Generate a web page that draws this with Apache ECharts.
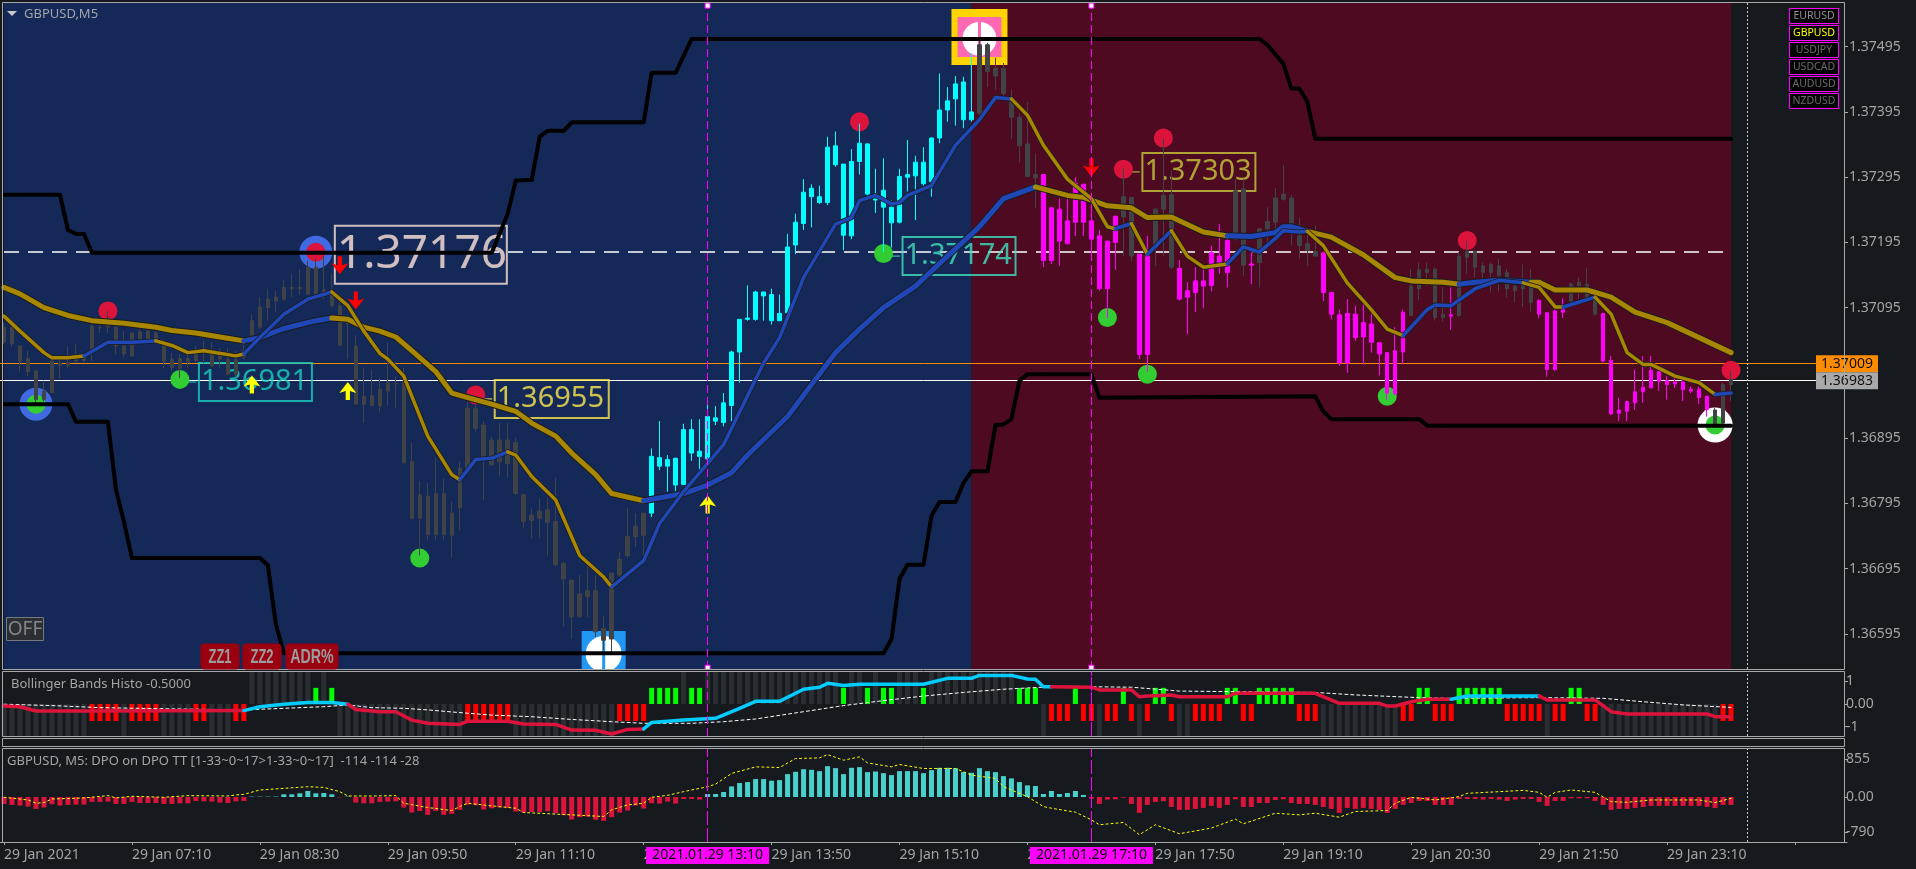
<!DOCTYPE html>
<html>
<head>
<meta charset="utf-8">
<title>GBPUSD,M5</title>
<script src="https://cdn.jsdelivr.net/npm/echarts@6/dist/echarts.min.js"></script>
<style>
  html, body { margin: 0; padding: 0; background: #161a1e; }
  #main { width: 1916px; height: 869px; }
</style>
</head>
<body>
<div id="main"></div>
<script>
// prices are in 1/100000 (137176 = 1.37176)
var tickLabels = ['29 Jan 2021', '29 Jan 07:10', '29 Jan 08:30', '29 Jan 09:50', '29 Jan 11:10', '29 Jan 12:30', '29 Jan 13:50',
  '29 Jan 15:10', '29 Jan 16:30', '29 Jan 17:50', '29 Jan 19:10', '29 Jan 20:30', '29 Jan 21:50', '29 Jan 23:10'];
var priceTicks = [137495, 137395, 137295, 137195, 137095, 136895, 136795, 136695, 136595];
var bbTicks = [1, 0, -1];
var dpoTicks = [855, 0, -790];
var symbolNames = ['EURUSD', 'GBPUSD', 'USDJPY', 'USDCAD', 'AUDUSD', 'NZDUSD'];
var dayHigh = 137181, askPrice = 137009, bidPrice = 136983;

// one row per bar: body top, body bottom, wick high, wick low
var candleRows = [
  [137065,137042,137072,137039],[137065,137040,137069,137035],[137036,137013,137037,136997],[137017,136997,137029,136990],
  [136998,136954,137000,136944],[136967,136954,136983,136951],[137013,136965,137015,136964],[137010,137006,137019,136987],
  [137011,137006,137036,137002],[137017,137013,137039,137010],[137017,137014,137023,137010],[137067,137028,137072,137013],
  [137065,137064,137072,137056],[137079,137065,137090,137056],[137065,137036,137069,137023],[137036,137024,137059,137019],
  [137056,137021,137057,137019],[137058,137045,137062,137042],[137059,137046,137062,137042],[137056,137044,137059,137039],
  [137036,137013,137046,137002],[137016,137003,137026,136997],[137017,137002,137023,136987],[137017,137012,137029,137003],
  [137023,137014,137036,137010],[137033,137026,137044,137010],[137024,137006,137042,137003],[137026,137016,137033,137003],
  [137016,136993,137033,136991],[137015,136993,137029,136990],[137029,137019,137039,137016],[137075,137052,137085,137049],
  [137096,137065,137111,137062],[137108,137095,137124,137075],[137111,137105,137121,137088],[137126,137108,137138,137105],
  [137126,137124,137147,137111],[137126,137124,137154,137115],[137157,137116,137167,137115],[137157,137116,137170,137115],
  [137122,137118,137174,137108],[137115,137098,137147,137095],[137098,137037,137115,137036],[137072,137070,137072,137016],
  [137036,136947,137052,136947],[136959,136947,137003,136918],[136960,136945,137000,136944],[136970,136944,136987,136934],
  [136980,136967,137042,136944],[136979,136978,136990,136941],[136980,136857,137003,136856],[136859,136772,136888,136770],
  [136808,136772,136829,136715],[136806,136747,136826,136738],[136810,136747,136865,136738],[136810,136747,136833,136738],
  [136780,136746,136797,136711],[136849,136788,136859,136754],[136941,136849,136951,136846],[136940,136910,136947,136905],
  [136915,136865,136921,136800],[136892,136854,136898,136852],[136892,136859,136918,136836],[136892,136856,136918,136834],
  [136888,136810,136895,136808],[136808,136767,136810,136757],[136777,136769,136787,136741],[136783,136772,136803,136742],
  [136785,136766,136803,136715],[136767,136701,136834,136698],[136703,136679,136705,136606],[136677,136621,136679,136587],
  [136656,136621,136685,136620],[136661,136652,136701,136620],[136661,136598,136685,136590],[136603,136585,136623,136570],
  [136688,136587,136688,136567],[136709,136685,136721,136682],[136744,136715,136788,136711],[136760,136744,136780,136728],
  [136780,136746,136780,136715],[136867,136780,136879,136774],[136865,136852,136921,136846],[136862,136852,136869,136813],
  [136864,136823,136865,136813],[136908,136824,136917,136823],[136908,136872,136924,136860],[136875,136867,136924,136846],
  [136928,136863,136947,136862],[136926,136921,136944,136915],[136949,136919,136964,136913],[137027,136945,137029,136921],
  [137077,137027,137077,136980],[137079,137077,137129,137075],[137119,137077,137121,137075],[137119,137113,137119,137075],
  [137115,137075,137124,137069],[137086,137075,137115,137074],[137188,137087,137208,137083],[137226,137191,137239,137177],
  [137272,137224,137292,137214],[137278,137265,137284,137218],[137265,137256,137282,137254],[137341,137256,137357,137252],
  [137343,137314,137365,137311],[137315,137206,137315,137183],[137319,137205,137338,137200],[137347,137319,137377,137299],
  [137346,137269,137347,137267],[137269,137260,137308,137240],[137275,137249,137324,137180],[137249,137225,137259,137187],
  [137296,137226,137308,137224],[137299,137295,137352,137273],[137318,137297,137328,137229],[137318,137285,137341,137282],
  [137355,137288,137356,137265],[137398,137355,137454,137347],[137412,137398,137433,137380],[137438,137415,137450,137374],
  [137441,137383,137449,137370],[137395,137383,137485,137380],[137498,137393,137505,137390],[137498,137457,137501,137433],
  [137462,137450,137478,137429],[137462,137423,137470,137419],[137413,137387,137429,137354],[137387,137343,137393,137318],
  [137346,137296,137410,137295],[137299,137294,137331,137247],[137299,137167,137299,137157],[137248,137167,137249,137162],
  [137246,137197,137262,137159],[137228,137193,137262,137192],[137286,137226,137295,137205],[137284,137226,137285,137205],
  [137228,137200,137259,137167],[137205,137124,137214,137121],[137197,137124,137197,137079],[137235,137195,137236,137153],
  [137265,137234,137308,137174],[137264,137174,137264,137166],[137177,137023,137177,137016],[137175,137023,137205,136997],
  [137246,137187,137246,137159],[137267,137246,137354,137174],[137268,137157,137305,137154],[137155,137108,137168,137106],
  [137121,137111,137134,137054],[137136,137118,137157,137088],[137136,137128,137157,137094],[137179,137129,137190,137120],
  [137174,137162,137223,137147],[137198,137149,137200,137126],[137274,137200,137292,137198],[137277,137160,137292,137144],
  [137162,137160,137180,137131],[137216,137164,137216,137126],[137227,137216,137249,137190],[137263,137226,137278,137213],
  [137269,137261,137313,137259],[137263,137223,137267,137190],[137205,137190,137233,137170],[137193,137183,137213,137159],
  [137181,137174,137221,137174],[137179,137118,137180,137105],[137118,137085,137118,137077],[137084,137010,137092,137006],
  [137086,137010,137108,136995],[137085,137049,137098,137044],[137072,137050,137101,137008],[137070,137042,137095,137026],
  [137041,137024,137042,136991],[137026,136964,137026,136954],[137029,136963,137065,136961],[137088,137027,137092,137008],
  [137128,137083,137154,137082],[137153,137124,137164,137106],[137154,137149,137164,137128],[137154,137080,137157,137075],
  [137085,137080,137126,137074],[137084,137082,137126,137061],[137174,137083,137180,137080],[137181,137172,137197,137147],
  [137181,137157,137183,137141],[137159,137149,137164,137128],[137161,137149,137164,137118],[137159,137144,137170,137120],
  [137149,137124,137154,137111],[137128,137121,137141,137103],[137129,137124,137161,137096],[137126,137103,137154,137088],
  [137106,137085,137108,137079],[137087,137000,137088,136989],[137090,137000,137092,136998],[137092,137088,137109,137079],
  [137131,137105,137134,137103],[137134,137129,137141,137108],[137131,137105,137155,137103],[137108,137085,137111,137083],
  [137086,137013,137086,137011],[137014,136932,137021,136931],[136938,136933,136957,136921],[136951,136936,136952,136921],
  [136966,136949,137000,136938],[136973,136966,137021,136949],[136999,136972,137021,136972],[136997,136982,136998,136967],
  [136983,136977,136990,136954],[136981,136978,136987,136972],[136981,136969,136985,136952],[136970,136967,136974,136964],
  [136970,136957,136974,136947],[136959,136939,136960,136928],[136938,136915,136941,136911],[136977,136918,136980,136915],
  [136985,136977,136998,136952]
];
// from bar, to bar, kind
var candleRuns = [[0,80,'n'],[81,121,'u'],[122,129,'n'],[130,139,'d'],[140,141,'n'],[142,143,'d'],[144,146,'n'],[147,153,'d'],
  [154,155,'n'],[156,156,'d'],[157,164,'n'],[165,175,'d'],[176,180,'n'],[181,181,'d'],[182,191,'n'],[192,195,'d'],[196,199,'n'],
  [200,213,'d'],[214,216,'n']];

var upperIdx = [0,7,8,9,10,11,61,63,64,66,67,68,70,71,80,81,84,86,157,158,160,161,162,163,164,216];
var upperPx = [137268,137268,137214,137208,137208,137179,137179,137239,137290,137291,137357,137366,137366,137379,137379,137455,137455,
  137507,137507,137498,137469,137431,137431,137411,137354,137354];
var lowerIdx = [0,8,9,13,14,15,16,32,33,34,35,110,111,112,113,115,116,117,119,120,121,123,124,125,126,127,128,136,137,164,165,166,177,178,216];
var lowerPx = [136947,136947,136920,136920,136816,136767,136711,136711,136700,136610,136565,136565,136587,136679,136701,136701,136776,
  136797,136797,136826,136844,136844,136915,136916,136924,136983,136993,136993,136957,136959,136936,136924,136924,136914,136914];

var slowIdx = [0,2,5,8,11,15,19,21,24,27,30,32,35,39,41,43,45,47,49,51,54,56,58,61,64,66,69,71,74,76,80,85,88,91,93,98,104,107,110,114,118,
  122,125,129,133,135,138,141,143,146,150,153,156,159,160,161,163,166,170,174,176,180,182,184,187,191,192,194,198,201,204,208,212,216];
var slowPx = [137126,137116,137095,137083,137075,137071,137065,137060,137056,137050,137044,137049,137063,137075,137079,137077,137065,137059,
  137050,137029,136997,136964,136957,136947,136936,136918,136898,136872,136839,136810,136799,136810,136823,136842,136869,136928,137026,137062,
  137095,137128,137174,137219,137262,137280,137267,137264,137251,137248,137233,137234,137211,137205,137204,137210,137219,137219,137212,137203,
  137176,137141,137136,137134,137131,137134,137137,137134,137134,137122,137122,137111,137088,137072,137049,137026];
var slowRuns = [[0,30,'f'],[30,41,'r'],[41,80,'f'],[80,129,'r'],[129,153,'f'],[153,163,'r'],[163,182,'f'],[182,191,'r'],[191,216,'f']];

var fastIdx = [0,2,5,6,8,10,13,16,19,21,23,25,29,30,32,35,38,41,43,45,47,48,50,53,56,57,59,61,63,64,66,69,72,75,76,77,80,82,85,90,95,97,100,104,
  106,107,109,111,112,113,116,119,122,124,126,128,130,133,136,138,139,141,143,146,148,150,153,155,157,159,160,162,163,165,168,171,173,175,178,
  179,181,184,187,190,192,194,195,199,201,203,205,206,209,212,214,216];
var fastPx = [137082,137059,137026,137018,137018,137021,137042,137042,137044,137037,137026,137029,137021,137024,137049,137085,137108,137119,
  137098,137059,137025,137016,136990,136898,136839,136831,136862,136864,136874,136869,136836,136800,136715,136682,136667,136677,136707,136764,
  136813,136885,137010,137049,137141,137223,137233,137259,137267,137254,137256,137267,137282,137344,137383,137417,137415,137390,137344,137292,
  137262,137219,137216,137224,137177,137213,137174,137157,137162,137188,137180,137201,137213,137211,137212,137190,137133,137092,137062,137052,
  137092,137099,137098,137124,137137,137133,137126,137096,137096,137111,137085,137026,137008,137008,136990,136980,136962,136964];
var fastRuns = [[0,10,'f'],[10,19,'r'],[19,30,'f'],[30,41,'r'],[41,57,'f'],[57,63,'r'],[63,76,'f'],[76,126,'r'],[126,139,'f'],[139,141,'r'],
  [141,143,'f'],[143,146,'r'],[146,153,'f'],[153,163,'r'],[163,175,'f'],[175,190,'r'],[190,195,'f'],[195,199,'r'],[199,214,'f'],[214,216,'r']];

var redDots = [[13,137090],[39,137180],[59,136961],[107,137380],[140,137307],[145,137355],[183,137198],[216,136999]];
var greenDots = [[4,136947],[22,136985],[52,136711],[110,137178],[138,137080],[143,136993],[173,136959],[214,136915]];
var blueRings = [[39,137180],[4,136947]];
var whiteRings = [[214,136915]];
var downArrows = [[42,137160],[44,137106],[136,137310]];
var upArrows = [[31,136977],[43,136967],[88,136793]];
var sellIcon = [[122,137510]];
var sellDisc = [[122,137507]];
var buyIcon = [[75,136570]];
var buyDisc = [[75,136564]];
var markerBars = [88, 136];
var markerTimes = ['2021.01.29 13:10', '2021.01.29 17:10'];
var futureBar = 218;
var dayHighEnd = 215;

var noteBars = [39, 22, 59, 110, 140];
var notePrices = [137176, 136981, 136955, 137174, 137303];

// Bollinger Bands Histo pane
var bbRuns = [[0,10,'gd'],[11,14,'s'],[15,15,'gd'],[16,19,'s'],[20,23,'gd'],[24,25,'s'],[26,28,'gd'],[29,30,'s'],[31,38,'gu'],[39,39,'b'],[40,40,'gu'],
  [41,41,'b'],[42,57,'gd'],[58,63,'s'],[64,76,'gd'],[77,80,'s'],[81,84,'b'],[85,85,'gu'],[86,87,'b'],[88,104,'gu'],[105,105,'b'],[106,107,'gu'],
  [108,108,'b'],[109,109,'gu'],[110,111,'b'],[112,114,'gu'],[115,115,'b'],[116,126,'gu'],[127,129,'b'],[130,130,'gd'],[131,133,'s'],[134,134,'b'],
  [135,136,'s'],[137,137,'gd'],[138,139,'s'],[140,140,'b'],[141,141,'s'],[142,142,'gd'],[143,143,'s'],[144,145,'b'],[146,146,'s'],[147,148,'gd'],
  [149,152,'s'],[153,154,'b'],[155,156,'s'],[157,161,'b'],[162,164,'s'],[165,174,'gd'],[175,176,'s'],[177,178,'b'],[179,181,'s'],[182,187,'b'],
  [188,192,'s'],[193,193,'gd'],[194,195,'s'],[196,197,'b'],[198,199,'s'],[200,214,'gd'],[215,216,'s']];
var bbLevels = { gu: 1.41, gd: -1.41, b: 0.71, s: -0.75 };
var bbIdx = [0,2,4,11,30,32,35,38,41,43,44,47,49,51,53,57,58,63,65,69,71,74,76,78,80,81,85,89,92,94,97,100,102,103,105,107,115,118,121,122,126,128,
  129,130,131,136,137,141,142,143,146,147,153,154,164,167,172,173,174,176,178,181,183,192,193,199,201,203,213,214,216];
var bbVal = [-0.09,-0.12,-0.31,-0.31,-0.29,-0.12,-0.01,0.07,0.07,-0.01,-0.24,-0.34,-0.34,-0.71,-0.85,-0.9,-0.76,-0.76,-0.88,-0.9,-1.15,-1.16,-1.32,
  -1.12,-1.1,-0.81,-0.71,-0.63,-0.19,0.12,0.12,0.65,0.74,0.91,0.82,0.87,0.87,1.13,1.13,1.26,1.26,1.1,1.09,0.76,0.76,0.74,0.62,0.62,0.32,0.35,0.4,
  0.32,0.32,0.47,0.47,0.03,0.03,-0.09,-0.09,0.1,0.21,0.21,0.35,0.35,0.18,0.18,-0.34,-0.44,-0.44,-0.56,-0.56];
var bbRunsLine = [[0,30,'s'],[30,43,'b'],[43,80,'s'],[80,131,'b'],[131,181,'s'],[181,192,'b'],[192,216,'s']];
var bbDotIdx = [0,6,12,20,30,35,40,43,46,50,53,56,61,66,71,76,80,86,90,94,100,105,110,115,120,125,131,136,141,147,155,164,169,177,181,192,200,205,210,216];
var bbDotVal = [-0.01,-0.07,-0.16,-0.21,-0.26,-0.19,-0.12,-0.04,-0.16,-0.19,-0.26,-0.35,-0.49,-0.56,-0.68,-0.78,-0.85,-0.85,-0.78,-0.66,-0.34,-0.07,
  0.15,0.35,0.51,0.65,0.76,0.76,0.74,0.57,0.54,0.51,0.4,0.28,0.25,0.28,0.25,0.1,-0.04,-0.15];

// DPO on DPO pane
var dpoHist = [-156,-178,-193,-215,-267,-237,-163,-193,-178,-171,-171,-111,-111,-104,-156,-156,-111,-134,-134,-134,-156,-156,-141,-141,-89,-96,-104,-126,
  -134,-96,-89,8,8,8,10,59,59,82,134,82,89,59,-10,8,-126,-141,-141,-111,-104,-96,-237,-349,-312,-401,-312,-401,-378,-289,-171,-186,-282,-252,-237,-245,
  -326,-349,-334,-341,-319,-364,-408,-505,-453,-438,-512,-534,-453,-349,-304,-193,-260,-141,-148,-104,-148,-45,-45,-59,67,67,111,237,312,334,401,401,
  364,378,512,564,623,608,579,690,646,512,653,668,557,571,534,490,579,579,579,534,601,653,653,646,557,542,646,579,557,467,416,334,260,245,67,134,67,89,
  134,45,-37,-156,-59,-52,-15,-156,-356,-178,-111,-96,-223,-289,-289,-267,-245,-200,-245,-178,-52,-223,-223,-134,-134,-67,-52,-134,-156,-156,-178,-223,
  -267,-356,-245,-267,-245,-267,-289,-356,-267,-178,-134,-89,-89,-178,-178,-178,-45,-45,-45,-59,-45,-59,-89,-59,-45,-45,-111,-200,-89,-89,-30,-30,-30,
  -89,-178,-289,-267,-267,-245,-223,-200,-200,-200,-200,-200,-200,-200,-223,-245,-178,-178];
var dpoIdx = [0,3,4,5,6,10,13,14,16,20,23,28,29,30,32,35,38,40,42,43,46,49,50,53,56,57,58,61,64,65,71,75,76,78,80,81,83,85,88,89,91,94,97,99,102,103,105,107,
  108,111,112,115,119,121,124,125,128,130,131,134,136,137,140,142,144,147,151,154,155,159,162,164,167,169,173,174,176,179,182,183,187,190,192,193,194,196,
  199,201,203,206,212,214,216];
var dpoVal = [-7,-67,-141,-126,-45,-22,30,-22,15,-7,30,22,45,59,156,193,230,215,119,22,22,30,-141,-237,-304,-215,-141,-200,-252,-349,-401,-438,-289,-178,
  -141,-7,37,119,230,289,527,675,660,861,876,950,824,898,764,675,727,638,638,490,416,230,7,-215,-252,-341,-512,-623,-571,-846,-623,-824,-697,-497,-601,-364,
  -401,-364,-453,-326,-304,-141,-7,-67,7,82,119,148,104,-7,104,156,104,-104,-119,-67,-67,-126,-30];

var colors = {
  bg: '#161a1e', text: '#a3a5a7', frame: '#a6a8aa', gold: '#a88600', blue: '#1f47b8', grey: '#404346', cyan: '#00ffff', magenta: '#ff00ff',
  crimson: '#dc143c', lime: '#32cd32', bbGrey: '#2a2e33', bbBuy: '#00ff00', bbSell: '#ff0000', bbUp: '#00ccff', teal: '#48d1cc'
};
var fontName = '"Noto Sans"';
var noteColors = ['#ffe4dc', '#18d0c0', '#ffe94d', '#40e0c0', '#c8c83c'];
var noteFonts = [46, 29, 29, 29, 29];
var noteSizes = [[172, 58], [113, 38], [114, 38], [113, 38], [113, 38]];

var barCount = 231;
var categories = [];
for (var i = 0; i < barCount; i++) {
  categories.push(i % 16 === 0 && tickLabels[i / 16] ? tickLabels[i / 16] : 'b' + i);
}

// slice a sparse [bar, value] line into the part between two bars
function pick(idx, val, from, to) {
  var pts = [];
  for (var k = 0; k < idx.length; k++) {
    if (idx[k] >= from && idx[k] <= to) pts.push([idx[k], val[k]]);
  }
  return pts;
}
function lineSeries(data, color, width, axis, z, dash) {
  return {
    type: 'line', xAxisIndex: axis, yAxisIndex: axis, data: data, symbol: 'none', smooth: false, silent: true, z: z,
    lineStyle: { color: color, width: width, type: dash || 'solid', cap: 'round', join: 'round' }
  };
}
function dotSeries(data, symbol, size, color, z, clip, border) {
  return {
    type: 'scatter', xAxisIndex: 0, yAxisIndex: 0, data: data, symbol: symbol, symbolSize: size, silent: true, z: z, clip: clip !== false,
    itemStyle: { color: color, opacity: 1, borderColor: border || color, borderWidth: border ? 1 : 0 }
  };
}
// vertical/horizontal guide lines hang on an empty series
function guideSeries(axis, z, lines, area) {
  var s = {
    type: 'line', xAxisIndex: axis, yAxisIndex: axis, data: [], symbol: 'none', silent: true, z: z,
    markLine: { silent: true, symbol: 'none', z: z, animation: false, data: lines }
  };
  if (area) s.markArea = { silent: true, z: 0, animation: false, data: area };
  return s;
}
function vLine(bar, color, dash, label) {
  var d = { xAxis: bar, lineStyle: { color: color, width: 1, type: dash, opacity: 1 }, label: { show: false } };
  if (label) d.label = { show: true, position: 'start', distance: 5, formatter: label, color: '#000', backgroundColor: colors.magenta,
    fontFamily: fontName, fontSize: 14, padding: [1, 6], lineHeight: 15 };
  return d;
}

var candleData = [];
candleRuns.forEach(function (run) {
  var c = run[2] === 'u' ? colors.cyan : run[2] === 'd' ? colors.magenta : colors.grey;
  for (var b = run[0]; b <= run[1]; b++) {
    var r = candleRows[b];
    candleData.push({
      value: [r[1], r[0], r[3], r[2]],
      itemStyle: { color: c, color0: c, borderColor: c, borderColor0: c, borderWidth: 1 }
    });
  }
});

var bbBars = [];
bbRuns.forEach(function (run) {
  var c = run[2] === 'b' ? colors.bbBuy : run[2] === 's' ? colors.bbSell : colors.bbGrey;
  for (var b = run[0]; b <= run[1]; b++) {
    bbBars.push({ value: bbLevels[run[2]], itemStyle: { color: c } });
  }
});
var dpoBars = dpoHist.map(function (v) {
  return { value: v, itemStyle: { color: v < 0 ? colors.crimson : colors.teal } };
});

var series = [];

var highStyle = { color: '#fff', width: 1.5, type: [15, 9], opacity: 1 };
// background zones plus the price lines that sit under everything
series.push(guideSeries(0, 1, [
  [{ xAxis: 0, yAxis: dayHigh, lineStyle: highStyle, label: { show: false } }, { xAxis: dayHighEnd, yAxis: dayHigh, lineStyle: highStyle }],
  { yAxis: askPrice, lineStyle: { color: '#ff8c00', width: 1, type: 'solid', opacity: 1 },
    label: { show: true, position: 'end', distance: 0, formatter: (askPrice / 1e5).toFixed(5), width: 62, height: 17, lineHeight: 17, align: 'center',
      color: '#111', backgroundColor: '#ff8c00', fontFamily: fontName, fontSize: 14 } },
  { yAxis: bidPrice, lineStyle: { color: '#fff', width: 1, type: 'solid', opacity: 1 },
    label: { show: true, position: 'end', distance: 0, formatter: (bidPrice / 1e5).toFixed(5), width: 62, height: 17, lineHeight: 17, align: 'center',
      color: '#111', backgroundColor: '#a9a9a9', fontFamily: fontName, fontSize: 14 } }
], [
  [{ xAxis: 0, itemStyle: { color: '#142957', opacity: 1 } }, { xAxis: 121 }],
  [{ xAxis: 121, itemStyle: { color: '#4d0a20', opacity: 1 } }, { xAxis: 216 }]
]));

// labelled price boxes
noteBars.forEach(function (bar, n) {
  var color = noteColors[n];
  series.push(lineSeries([[bar, notePrices[n]], [bar + 2, notePrices[n]]], color, 1, 0, 1));
  series.push({
    type: 'scatter', xAxisIndex: 0, yAxisIndex: 0, data: [[bar, notePrices[n]]], symbolSize: 0, silent: true, z: 1,
    label: {
      show: true, position: 'right', distance: 19, formatter: (notePrices[n] / 1e5).toFixed(5), color: color, borderColor: color, borderWidth: 1,
      width: noteSizes[n][0] - 2, height: noteSizes[n][1], lineHeight: noteSizes[n][1], padding: [0, 0, 0, 2], verticalAlign: 'middle',
      fontFamily: fontName, fontSize: noteFonts[n], backgroundColor: 'transparent'
    }
  });
});

// rings, dots and the two big icons sit under the candles
series.push(dotSeries(blueRings, 'circle', 33, '#4169e1', 1));
series.push(dotSeries(whiteRings, 'circle', 35, '#ffffff', 1));
series.push(dotSeries(redDots, 'circle', 19, colors.crimson, 1.5));
series.push(dotSeries(greenDots, 'circle', 19, colors.lime, 1.5));
series.push(dotSeries(sellIcon, 'rect', 56, '#ffd400', 1));
series.push(dotSeries(sellIcon, 'rect', [44, 40], '#ff69b4', 1.1));
series.push(dotSeries(sellDisc, 'circle', 34, '#ffffff', 1.2));
series.push(dotSeries(sellDisc, 'rect', [3, 34], '#ff69b4', 1.3));
series.push(dotSeries(buyIcon, 'rect', [44, 38], '#2196f3', 1));
series.push(dotSeries(buyDisc, 'circle', 36, '#ffffff', 1.2));
series.push(dotSeries(buyDisc, 'rect', [3, 36], '#2196f3', 1.3));

series.push({
  type: 'candlestick', xAxisIndex: 0, yAxisIndex: 0, data: candleData, barWidth: 4, silent: true, z: 2, large: false, progressive: 0
});

// channel
series.push(lineSeries(pick(upperIdx, upperPx, 0, 216), '#000', 4, 0, 3));
series.push(lineSeries(pick(lowerIdx, lowerPx, 0, 216), '#000', 4, 0, 3));

// moving averages, dark edge first
series.push(lineSeries(pick(slowIdx, slowPx, 0, 216), '#1a1c20', 7, 0, 3.1));
slowRuns.forEach(function (run) {
  series.push(lineSeries(pick(slowIdx, slowPx, run[0], run[1]), run[2] === 'f' ? colors.gold : colors.blue, 5, 0, 3.2));
});
series.push(lineSeries(pick(fastIdx, fastPx, 0, 216), '#1a1c20', 5, 0, 3.3));
fastRuns.forEach(function (run) {
  series.push(lineSeries(pick(fastIdx, fastPx, run[0], run[1]), run[2] === 'f' ? colors.gold : colors.blue, 3.5, 0, 3.4));
});

var downShape = 'path://M6,0 H10 V9 L16,7 L8,18 L0,7 L6,9 Z';
var upShape = 'path://M8,0 L16,11 L10,9 V18 H6 V9 L0,11 Z';
series.push(dotSeries(downArrows, downShape, [17, 18], '#ff0000', 4));
series.push(dotSeries(upArrows, upShape, [17, 18], '#ffff00', 4));

// period markers and the shift line on all three panes
series.push(guideSeries(0, 5, [vLine(markerBars[0], colors.magenta, [8, 4]), vLine(markerBars[1], colors.magenta, [8, 4]), vLine(futureBar, '#c8c8c8', [2, 2])]));
series.push(guideSeries(1, 5, [vLine(markerBars[0], colors.magenta, [8, 4]), vLine(markerBars[1], colors.magenta, [14, 1]), vLine(futureBar, '#c8c8c8', [2, 2])]));
series.push(guideSeries(2, 5, [
  vLine(markerBars[0], colors.magenta, [14, 3], markerTimes[0]),
  vLine(markerBars[1], colors.magenta, [14, 3], markerTimes[1]),
  vLine(futureBar, '#c8c8c8', [2, 2])
]));
series.push(dotSeries([[markerBars[0], 137558], [markerBars[1], 137558], [markerBars[0], 136543], [markerBars[1], 136543]], 'rect', 5, '#ffffff', 6, false, colors.magenta));

// Bollinger pane
series.push({ type: 'bar', xAxisIndex: 1, yAxisIndex: 1, data: bbBars, barWidth: 5, silent: true, z: 2 });
series.push(lineSeries(pick(bbDotIdx, bbDotVal, 0, 216), '#ffffff', 1, 1, 3, [3, 3]));
bbRunsLine.forEach(function (run) {
  series.push(lineSeries(pick(bbIdx, bbVal, run[0], run[1]), run[2] === 'b' ? colors.bbUp : colors.crimson, 3.5, 1, 4));
});

// DPO pane
series.push({ type: 'bar', xAxisIndex: 2, yAxisIndex: 2, data: dpoBars, barWidth: 5, silent: true, z: 2 });
series.push(lineSeries(pick(dpoIdx, dpoVal, 0, 216), '#ffff00', 1, 2, 3, [2, 3]));

function xAxisFor(grid, showLabels) {
  return {
    type: 'category', gridIndex: grid, data: categories, boundaryGap: true, position: 'bottom',
    axisLine: { show: showLabels, onZero: false, lineStyle: { color: colors.frame } },
    axisTick: { show: showLabels, alignWithLabel: true, length: 3, lineStyle: { color: colors.frame },
      interval: function (index) { return index % 16 === 0; } },
    axisLabel: {
      show: showLabels, align: 'left', margin: 6, color: colors.text, fontFamily: fontName, fontSize: 14,
      interval: function (index) { return index % 16 === 0 && index / 16 < tickLabels.length; }
    },
    splitLine: { show: false }
  };
}
function yAxisFor(grid, min, max, ticks, fmt, margin) {
  return {
    type: 'value', gridIndex: grid, position: 'right', offset: -2, min: min, max: max, scale: true,
    axisLine: { show: false },
    axisTick: { show: true, length: 3, customValues: ticks, lineStyle: { color: colors.frame } },
    axisLabel: { show: true, customValues: ticks, formatter: fmt, margin: margin, color: colors.text, fontFamily: fontName, fontSize: 14,
      showMinLabel: true, showMaxLabel: true, hideOverlap: false },
    splitLine: { show: false }
  };
}

// text, buttons and frames
var graphicItems = [];
function frame(x, y, w, h) {
  graphicItems.push({ type: 'rect', silent: true, z: 50, shape: { x: x, y: y, width: w, height: h }, style: { fill: 'none', stroke: colors.frame, lineWidth: 1 } });
}
function text(x, y, str, fill, font, align, squeeze) {
  graphicItems.push({
    type: 'text', silent: true, z: 60, x: x, y: y, scaleX: squeeze || 1,
    style: { x: 0, y: 0, text: str, fill: fill, font: font, align: align || 'left', verticalAlign: 'middle' }
  });
}
function button(x, y, w, h, fill, stroke, label, labelFill, font, r, squeeze) {
  graphicItems.push({ type: 'rect', silent: true, z: 55, shape: { x: x, y: y, width: w, height: h, r: r || 0 }, style: { fill: fill, stroke: stroke, lineWidth: 1 } });
  text(x + w / 2, y + h / 2 + 0.5, label, labelFill, font, 'center', squeeze);
}
// strip between the main pane and the next one, the buy icon must not spill past it
graphicItems.push({ type: 'rect', silent: true, z: 40, shape: { x: 3, y: 670, width: 1841, height: 2 }, style: { fill: colors.bg } });
frame(2.5, 2.5, 1842, 667);
frame(2.5, 671.5, 1842, 65);
frame(2.5, 738.5, 1842, 8);
frame(2.5, 748.5, 1842, 94);
graphicItems.push({ type: 'polygon', silent: true, z: 60, shape: { points: [[7, 11], [17, 11], [12, 16]] }, style: { fill: '#c8c8c8' } });
text(24, 14, 'GBPUSD,M5', colors.text, '13px ' + fontName);
text(11, 684, 'Bollinger Bands Histo -0.5000', colors.text, '13px ' + fontName);
text(7, 761, 'GBPUSD, M5: DPO on DPO TT [1-33~0~17>1-33~0~17]  -114 -114 -28', colors.text, '13px ' + fontName);
button(6.5, 617.5, 37, 23, '#2b2e33', '#777a7d', 'OFF', '#85888b', '19px ' + fontName);
var redFont = 'bold 21px "Liberation Sans"';
button(201, 644, 38, 25, '#9a0010', '#9a0010', 'ZZ1', '#9c9c9c', redFont, 3, 0.62);
button(243, 644, 38, 25, '#9a0010', '#9a0010', 'ZZ2', '#9c9c9c', redFont, 3, 0.62);
button(286, 644, 52, 25, '#9a0010', '#9a0010', 'ADR%', '#9c9c9c', redFont, 3, 0.68);
symbolNames.forEach(function (name, n) {
  var fill = name === 'GBPUSD' ? '#ffff00' : name === 'EURUSD' ? '#8f8f8f' : '#6a6a6a';
  button(1789.5, 8.5 + 17 * n, 49, 15, '#050505', colors.magenta, name, fill, '10.5px ' + fontName);
});

var option = {
  animation: false,
  backgroundColor: colors.bg,
  textStyle: { fontFamily: fontName },
  grid: [
    { left: -1, width: 8 * barCount, top: 3, height: 666 },
    { left: -1, width: 8 * barCount, top: 672, height: 64 },
    { left: -1, width: 8 * barCount, top: 749, height: 93 }
  ],
  xAxis: [xAxisFor(0, false), xAxisFor(1, false), xAxisFor(2, true)],
  yAxis: [
    yAxisFor(0, 136541, 137562, priceTicks, function (v) { return (v / 1e5).toFixed(5); }, 4),
    yAxisFor(1, -1.41, 1.41, bbTicks, function (v) { return v === 0 ? '0.00' : String(v); }, 1),
    yAxisFor(2, -1009, 1075, dpoTicks, function (v) { return v === 0 ? '0.00' : String(v); }, 1)
  ],
  series: series,
  graphic: graphicItems
};

var chart = echarts.init(document.getElementById('main'), null, { renderer: 'canvas', width: 1916, height: 869 });
chart.setOption(option);
</script>
</body>
</html>
